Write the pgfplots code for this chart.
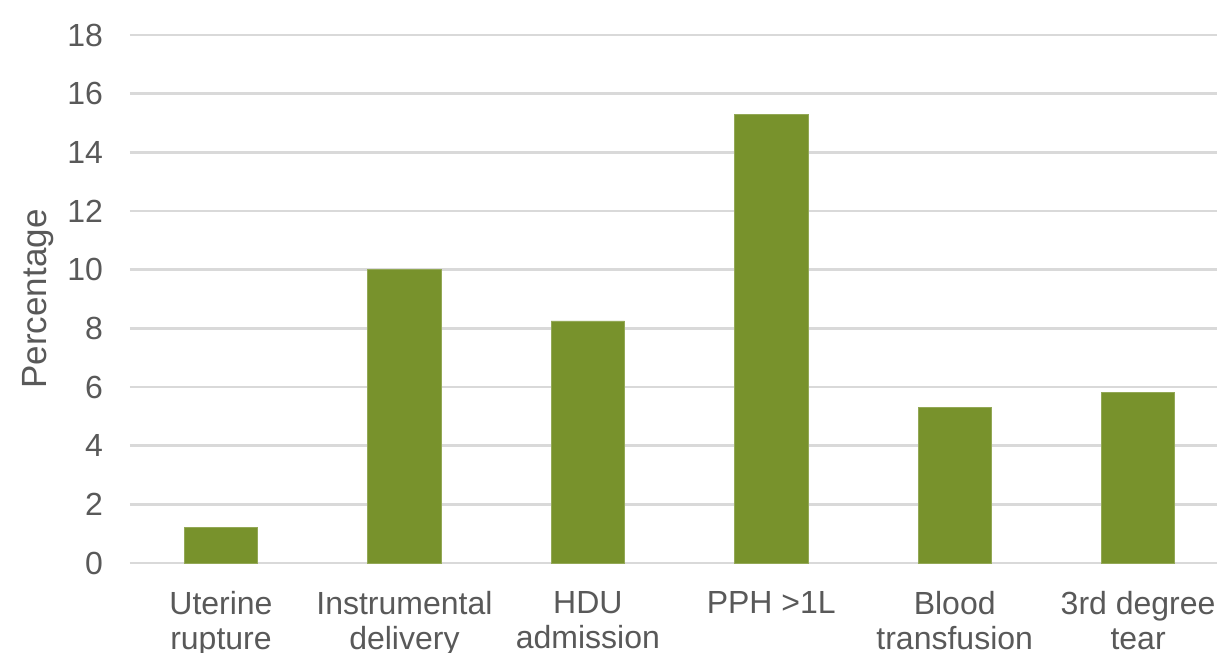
\documentclass[border=0pt]{standalone}
\usepackage{pgfplots}
\pgfplotsset{compat=1.18}
\usepackage{fontspec}
\setmainfont{Liberation Sans}
\definecolor{barcol}{HTML}{78922C}
\definecolor{gridcol}{HTML}{D9D9D9}
\definecolor{textcol}{HTML}{595959}
\begin{document}
\begin{tikzpicture}
\begin{axis}[
  at={(0pt,0pt)}, anchor=south west,
  scale only axis,
  width=543.5pt, height=264pt,
  xmin=-0.496, xmax=5.43,
  ymin=0, ymax=18,
  ytick={0,2,...,18},
  xtick=data,
  xticklabels={{Uterine\\rupture},{Instrumental\\delivery},{HDU\\admission},{PPH >1L},{Blood\\transfusion},{3rd degree\\tear}},
  ybar, bar width=0.4,
  axis line style={draw=none},
  major tick length=0pt,
  ymajorgrids,
  grid style={gridcol, line width=1.2pt},
  tick label style={textcol, font=\fontsize{16}{17.5}\selectfont},
  /pgf/number format/assume math mode=true,
  yticklabel style={xshift=-10pt},
  xticklabel style={align=center, yshift=-10.5pt},
  ylabel={Percentage},
  ylabel style={textcol, font=\fontsize{17.5}{20}\selectfont, at={(axis description cs:-0.0846,0.5)}, anchor=center},
  clip=false,
]
\addplot[fill=barcol, draw=barcol!80!white, line width=0.4pt] coordinates {(0,1.2) (1,10.0) (2,8.25) (3,15.3) (4,5.3) (5,5.8)};
\end{axis}
\pgfresetboundingbox
\path[use as bounding box] (-65pt,-45pt) rectangle (543.5pt,281.5pt);
\end{tikzpicture}
\end{document}
